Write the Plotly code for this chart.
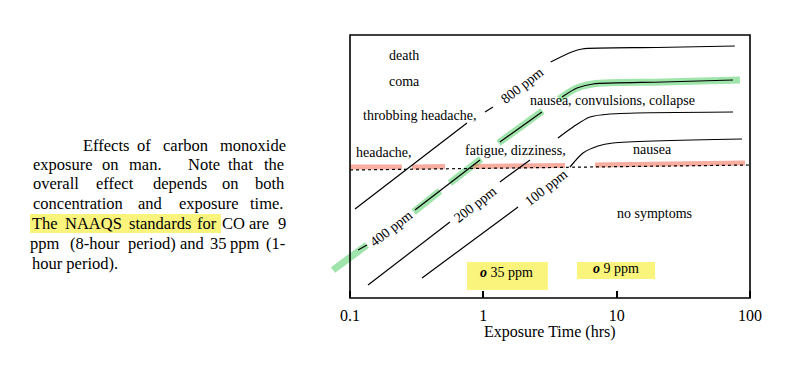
import math
import plotly.graph_objects as go

# ---------------- data (exposure time in hours, effect level in arbitrary units) ----------------
exp_800 = [0.109, 0.754, None, 1.03, 1.18, None, 3.2, 4.6, 5.5, 20, 77]
lvl_800 = [89, 175, None, 186, 191, None, 236, 246, 249, 250.5, 252]
exp_400 = [0.115, 0.134, None, 0.307, 0.944, None, 1.33, 2.75, None, 3.89, 5.04, 6.64, 22.3, 74.6]
lvl_400 = [48, 53, None, 88, 138, None, 156, 186, None, 201, 210, 214, 216, 218]
exp_200 = [0.1365, 0.562, None, 1.33, 2.24, None, 3.63, 4.71, 6.31, 8.91, 74.6]
lvl_200 = [13, 76, None, 116, 138, None, 160, 171, 181, 184, 186]
exp_100 = [0.347, 1.82, None, 4.47, 5.59, 7.24, 9.39, 87.1]
lvl_100 = [20, 91, None, 131, 145, 152, 155, 159]

thr_exp = [0.1, 100]
thr_lvl = [128, 133]

red_exp = [0.1, 0.245, None, 0.292, 0.516, None, 0.837, 4.10, None, 6.88, 91.7]
red_lvl = [131, 131, None, 131, 131.5, None, 131.5, 132.5, None, 133, 135]

green_exp = [0.0746, 0.134, None, 0.3, 0.473, None, 0.562, 0.96, None, 1.3, 2.78, None,
             3.7, 5.04, 6.64, 22.3, 84]
green_lvl = [28, 53, None, 86, 107, None, 115, 139, None, 155, 187, None,
             199, 210, 214, 216, 218]

ppm_labels = ["800 ppm", "400 ppm", "200 ppm", "100 ppm"]
ppm_exp = [1.95, 0.203, 0.866, 2.96]
ppm_lvl = [213, 70, 94, 111]

effect_labels = ["death", "coma", "throbbing headache,", "headache,", "fatigue, dizziness,",
                 "nausea, convulsions, collapse", "nausea", "no symptoms"]
effect_exp = [0.255, 0.255, 0.335, 0.18, 1.73, 9.23, 18.7, 19.1]
effect_lvl = [243, 217, 183, 146, 148, 198, 149, 85]

std_labels = ["35 ppm", "9 ppm"]
std_exp = [1.5, 9.9]
std_lvl = [26, 30]
std_hl_exp = [[0.754, 3.05], [5.04, 19.4]]
std_hl_lvl = [[8, 36], [19, 36]]

x_ticks = [0.1, 1, 10, 100]
x_tick_text = ["0.1", "1", "10", "100"]
x_title = "Exposure Time (hrs)"

caption_lines = [
    "Effects of carbon monoxide",
    "exposure on man.  Note that the",
    "overall effect depends on both",
    "concentration and exposure time.",
    "The NAAQS standards for CO are 9",
    "ppm (8-hour period) and 35 ppm (1-",
    "hour period).",
]

# ---------------- layout helpers ----------------
FONT = "Liberation Serif"
PL, PR, PT, PB = 330, 752, 33, 300
W, H = 800, 368


def pxx(px):
    return (px - PL) / (PR - PL)


def pxy(py):
    return (PB - py) / (PB - PT)


# word centre positions (pixels) for the justified caption
caption_word_cx = [
    [106, 143.5, 185.5, 252.5],
    [62.5, 110.5, 145, 204, 240, 274],
    [56, 115, 179.5, 230.5, 270],
    [77.5, 150.5, 208.5, 266.5],
    [45, 93, 160, 207, 233, 259, 281.5],
    [45, 94.5, 152, 192.5, 218.5, 245, 275],
    [75],
]
caption_y = [145, 164, 183, 203, 223, 243, 263]

fig = go.Figure()

# highlighter marks
fig.add_trace(go.Scatter(x=green_exp, y=green_lvl, mode="lines",
                         line=dict(color="rgba(80,205,100,0.55)", width=7, shape="spline"),
                         hoverinfo="skip", showlegend=False))
fig.add_trace(go.Scatter(x=red_exp, y=red_lvl, mode="lines",
                         line=dict(color="rgba(240,105,80,0.55)", width=5),
                         hoverinfo="skip", showlegend=False))

# threshold dotted line
fig.add_trace(go.Scatter(x=thr_exp, y=thr_lvl, mode="lines",
                         line=dict(color="black", width=1.2, dash="dot"),
                         hoverinfo="skip", showlegend=False))

# concentration curves
for ex, lv in [(exp_800, lvl_800), (exp_400, lvl_400), (exp_200, lvl_200), (exp_100, lvl_100)]:
    fig.add_trace(go.Scatter(x=ex, y=lv, mode="lines",
                             line=dict(color="black", width=1.2, shape="spline", smoothing=0.8),
                             hoverinfo="skip", showlegend=False))

annotations = []
for t, ex, lv in zip(ppm_labels, ppm_exp, ppm_lvl):
    annotations.append(dict(x=math.log10(ex), y=lv, xref="x", yref="y", text=t, showarrow=False,
                            textangle=-38, font=dict(family=FONT, size=14, color="black")))
for t, ex, lv in zip(effect_labels, effect_exp, effect_lvl):
    annotations.append(dict(x=math.log10(ex), y=lv, xref="x", yref="y", text=t, showarrow=False,
                            font=dict(family=FONT, size=14, color="black")))
for t, ex, lv in zip(std_labels, std_exp, std_lvl):
    annotations.append(dict(x=math.log10(ex), y=lv, xref="x", yref="y",
                            text="<b><i>o</i></b> " + t,
                            showarrow=False, font=dict(family=FONT, size=14, color="black")))

# axis title
annotations.append(dict(x=pxx(550), y=pxy(332), xref="paper", yref="paper", text=x_title,
                        showarrow=False, xanchor="center", yanchor="middle",
                        font=dict(family=FONT, size=16, color="black")))

# caption
for line, cxs, py in zip(caption_lines, caption_word_cx, caption_y):
    words = line.split() if len(cxs) > 1 else [line]
    for w, cx in zip(words, cxs):
        annotations.append(dict(x=pxx(cx), y=pxy(py), xref="paper", yref="paper", text=w,
                                showarrow=False, xanchor="center", yanchor="middle",
                                font=dict(family=FONT, size=16.5, color="black")))

shapes = []
# yellow highlighter behind the standards
for (x0, x1), (y0, y1) in zip(std_hl_exp, std_hl_lvl):
    shapes.append(dict(type="rect", xref="x", yref="y", x0=x0, x1=x1, y0=y0, y1=y1,
                       fillcolor="rgba(248,240,70,0.7)", line=dict(width=0), layer="below"))
# yellow highlighter in caption
shapes.append(dict(type="rect", xref="paper", yref="paper", x0=pxx(30), x1=pxx(221),
                   y0=pxy(233), y1=pxy(214), fillcolor="rgba(248,240,70,0.7)",
                   line=dict(width=0), layer="below"))
# plot box
shapes.append(dict(type="rect", xref="x", yref="y", x0=0.1, x1=100, y0=0, y1=263,
                   line=dict(color="black", width=1.6), layer="above"))

fig.update_layout(
    width=W, height=H,
    margin=dict(l=PL, r=W - PR, t=PT, b=H - PB),
    paper_bgcolor="white", plot_bgcolor="white",
    showlegend=False,
    annotations=annotations,
    shapes=shapes,
    xaxis=dict(type="log", range=[-1.15, 2.015], tickvals=x_ticks, ticktext=x_tick_text,
               ticks="inside", ticklen=7, tickwidth=1.5, tickcolor="black",
               showgrid=False, zeroline=False, showline=False,
               anchor="free", position=2 / 267, ticklabelstandoff=6,
               tickfont=dict(family=FONT, size=16, color="black")),
    yaxis=dict(range=[-2, 265], visible=False, showgrid=False),
)

fig.write_html("out.html", config={"displayModeBar": False},
               post_script="document.body.style.margin='0';")
